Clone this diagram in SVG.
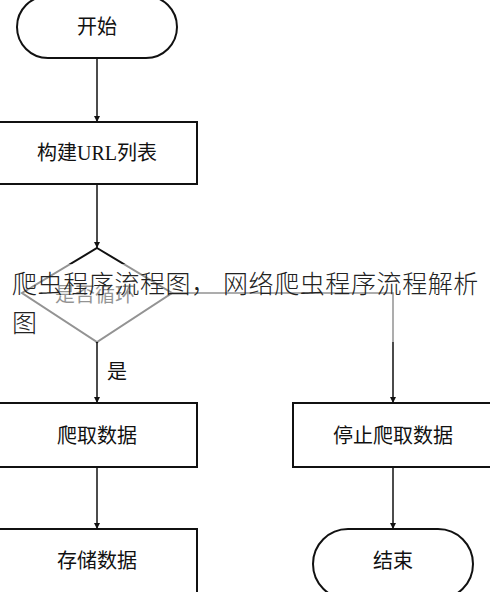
<svg xmlns="http://www.w3.org/2000/svg" width="490" height="592" viewBox="0 0 490 592">
<defs>
<marker id="arr" viewBox="0 0 10 10" refX="10" refY="5" markerWidth="6" markerHeight="10" markerUnits="userSpaceOnUse" orient="auto">
<path d="M0,0 L10,5 L0,10 z" fill="#111"/>
</marker>
<style>
.shape{fill:#fff;stroke:#111;stroke-width:2}
.ln{stroke:#111;stroke-width:1.5;fill:none}
.lbl{font-family:"Liberation Serif","Noto Sans CJK SC",serif;font-size:20px;fill:#111;text-anchor:middle}
.wm{font-family:"Noto Sans CJK SC","Noto Sans",sans-serif;font-size:25px;font-weight:300;fill:#222;letter-spacing:0.6px}
</style>
</defs>
<rect width="490" height="592" fill="#fff"/>
<g id="connectors">
<line class="ln" x1="97" y1="58" x2="97" y2="122" marker-end="url(#arr)"/>
<line class="ln" x1="97" y1="184" x2="97" y2="248" marker-end="url(#arr)"/>
<line class="ln" x1="97" y1="342" x2="97" y2="403" marker-end="url(#arr)"/>
<polyline class="ln" points="172,293 393,293 393,403" marker-end="url(#arr)"/>
<line class="ln" x1="97" y1="467" x2="97" y2="529" marker-end="url(#arr)"/>
<line class="ln" x1="393" y1="467" x2="393" y2="529" marker-end="url(#arr)"/>
<text class="lbl" x="117" y="379">是</text>
</g>
<g id="start">
<rect class="shape" x="17" y="-4" width="160" height="62" rx="31"/>
<text class="lbl" x="97" y="34">开始</text>
</g>
<g id="build">
<rect class="shape" x="-2" y="122" width="199" height="62"/>
<text class="lbl" x="97" y="160">构建URL列表</text>
</g>
<g id="decision">
<polygon class="shape" points="97,248 172,293 97,342 22,293"/>
<text class="lbl" x="95" y="302">是否循环</text>
</g>
<g id="crawl">
<rect class="shape" x="-2" y="403" width="199" height="64"/>
<text class="lbl" x="97" y="443">爬取数据</text>
</g>
<g id="store">
<rect class="shape" x="-2" y="529" width="199" height="70"/>
<text class="lbl" x="97" y="568">存储数据</text>
</g>
<g id="stop">
<rect class="shape" x="293" y="403" width="200" height="64"/>
<text class="lbl" x="393" y="443">停止爬取数据</text>
</g>
<g id="end">
<rect class="shape" x="313" y="529" width="160" height="70" rx="35"/>
<text class="lbl" x="393" y="568">结束</text>
</g>
<rect x="0" y="264" width="490" height="78" fill="#fff" opacity="0.55"/>
<g id="watermark">
<text class="wm" x="12" y="293">爬虫程序流程图， 网络爬虫程序流程解析</text>
<text class="wm" x="12" y="332">图</text>
</g>
</svg>
